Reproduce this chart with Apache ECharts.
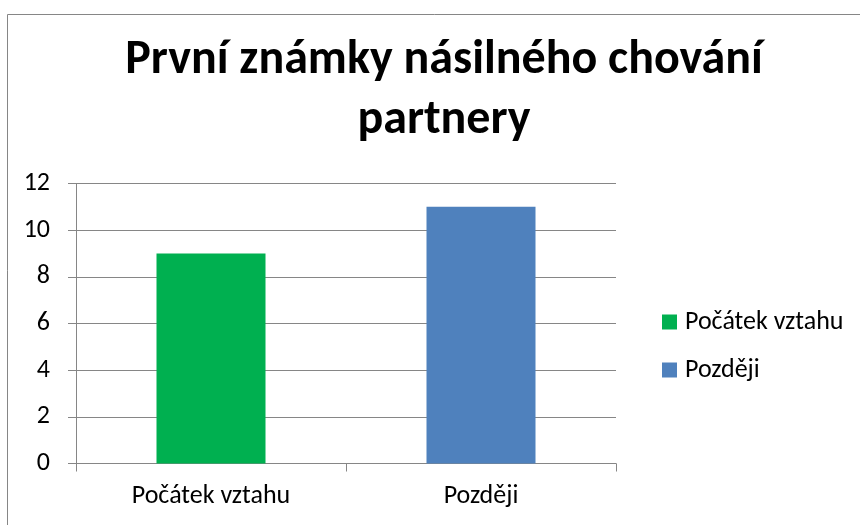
<!DOCTYPE html>
<html>
<head>
<meta charset="utf-8">
<script src="https://cdn.jsdelivr.net/npm/echarts@6/dist/echarts.min.js"></script>
<style>
  html, body { margin: 0; padding: 0; background: #fff; }
  #chart { width: 860px; height: 525px; }
</style>
</head>
<body>
<div id="chart"></div>
<script>
// data
const categories = ['Počátek vztahu', 'Později']
const values = [9, 11]
const colors = ['#00b050', '#4f81bd']
const titleText = 'První známky násilného chování\npartnery'

const font = "Carlito, 'Liberation Sans Narrow', 'Liberation Sans', sans-serif"
const gray = '#868686'

const chart = echarts.init(document.getElementById('chart'), null, { renderer: 'canvas' })

// one series per category so the legend lists both; stacking keeps the bars centred
const series = categories.map((name, i) => ({
  name: name,
  type: 'bar',
  stack: 'all',
  barWidth: 109,
  itemStyle: { color: colors[i] },
  data: categories.map((c, j) => (j === i ? values[i] : null))
}))

chart.setOption({
  animation: false,
  textStyle: { fontFamily: font },
  title: {
    text: titleText,
    left: 439,
    top: 26,
    textAlign: 'center',
    textStyle: {
      fontFamily: font,
      fontSize: 48,
      fontWeight: 'bold',
      color: '#000',
      lineHeight: 60
    }
  },
  legend: {
    orient: 'vertical',
    left: 657,
    top: 304,
    itemWidth: 15,
    itemHeight: 15,
    itemGap: 22,
    icon: 'rect',
    textStyle: { fontFamily: font, fontSize: 26, color: '#000', padding: [0, 0, 0, 3] },
    data: categories
  },
  grid: {
    left: 76,
    right: 244,
    top: 183.5,
    bottom: 61.5,
    containLabel: false
  },
  xAxis: {
    type: 'category',
    data: categories,
    axisLine: { show: true, lineStyle: { color: gray, width: 1 } },
    axisTick: { show: true, length: 8, lineStyle: { color: gray } },
    axisLabel: { color: '#000', fontFamily: font, fontSize: 26, margin: 20 }
  },
  yAxis: {
    type: 'value',
    min: 0,
    max: 12,
    interval: 2,
    axisLine: { show: true, lineStyle: { color: gray, width: 1 } },
    axisTick: { show: true, length: 8, lineStyle: { color: gray } },
    axisLabel: { color: '#000', fontFamily: font, fontSize: 26, margin: 26 },
    splitLine: { show: true, lineStyle: { color: gray, width: 1 } }
  },
  graphic: [{
    type: 'rect',
    left: 5,
    top: 12,
    shape: { width: 900, height: 600 },
    style: { fill: 'none', stroke: gray, lineWidth: 1 },
    silent: true
  }],
  series: series
})
</script>
</body>
</html>
